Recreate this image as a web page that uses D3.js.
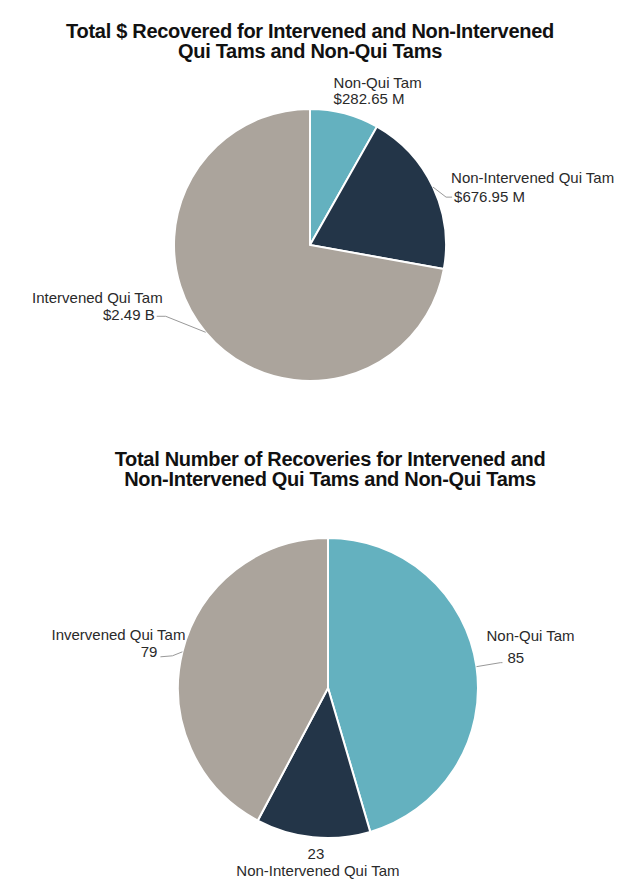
<!DOCTYPE html>
<html>
<head>
<meta charset="utf-8">
<script src="https://cdn.jsdelivr.net/npm/d3@7"></script>
<style>
  body { margin: 0; background: #fff; }
  svg text { font-family: "Liberation Sans", Arial, sans-serif; }
</style>
</head>
<body>
<div id="chart"></div>
<script>
// data
var dollarNames = ["Non-Qui Tam", "Non-Intervened Qui Tam", "Intervened Qui Tam"];
var dollarValues = [282.65, 676.95, 2490]; // $ millions
var dollarText = ["$282.65 M", "$676.95 M", "$2.49 B"];

var countNames = ["Non-Qui Tam", "Non-Intervened Qui Tam", "Invervened Qui Tam"];
var countValues = [85, 23, 79];

var sliceColors = ["#64b1bf", "#233548", "#aba49c"];

var width = 640, height = 887;

var svg = d3.select("#chart")
    .append("svg")
    .attr("width", width)
    .attr("height", height);

// label layout per slice: leader points relative to the slice's edge midpoint,
// text anchor and the two text lines relative to the leader end
var layout1 = [
  { leader: null, anchor: "start", line1: [-11, -25], line2: [-11, -9] },
  { leader: [[13, 10], [19, 10]], anchor: "start", line1: [-1, -14], line2: [2, 5] },
  { leader: [[-40, -16], [-49, -16]], anchor: "end", line1: [6, -13], line2: [-2, 4] }
];
var layout2 = [
  { leader: [[24, -4], [26, -4]], anchor: "start", line1: [-16, -22], line2: [5, 0] },
  { leader: null, anchor: "middle", line1: [3, 22], line2: [5, 39], valueFirst: true },
  { leader: [[-10, 4], [-22, 5]], anchor: "end", line1: [25, -17], line2: [-3, 0] }
];

function drawPie(opts) {
  var g = svg.append("g")
      .attr("transform", "translate(" + opts.cx + "," + opts.cy + ")");

  var pie = d3.pie().sort(null).value(function(d) { return d; });
  var arc = d3.arc().innerRadius(0).outerRadius(opts.r);
  var arcs = pie(opts.values);

  g.selectAll("path.slice")
    .data(arcs)
    .enter()
    .append("path")
    .attr("class", "slice")
    .attr("d", arc)
    .attr("fill", function(d, i) { return sliceColors[i]; })
    .attr("stroke", "#fff")
    .attr("stroke-width", 2);

  arcs.forEach(function(a, i) {
    var mid = (a.startAngle + a.endAngle) / 2;
    var p0 = [opts.r * Math.sin(mid), -opts.r * Math.cos(mid)];
    var lay = opts.layout[i];
    var end = p0;
    if (lay.leader) {
      var pts = [p0].concat(lay.leader.map(function(o) { return [p0[0] + o[0], p0[1] + o[1]]; }));
      g.append("path")
        .attr("d", d3.line()(pts))
        .attr("fill", "none")
        .attr("stroke", "#999")
        .attr("stroke-width", 1);
      end = pts[pts.length - 1];
    }
    // name on top, value under it (or the other way round)
    var top = lay.valueFirst ? opts.labels[i] : opts.names[i];
    var bottom = lay.valueFirst ? opts.names[i] : opts.labels[i];
    g.append("text")
      .attr("x", end[0] + lay.line1[0])
      .attr("y", end[1] + lay.line1[1])
      .attr("text-anchor", lay.anchor)
      .attr("font-size", 15)
      .attr("fill", "#2a2a2a")
      .text(top);
    g.append("text")
      .attr("x", end[0] + lay.line2[0])
      .attr("y", end[1] + lay.line2[1])
      .attr("text-anchor", lay.anchor)
      .attr("font-size", 15)
      .attr("fill", "#2a2a2a")
      .text(bottom);
  });

  var t = svg.append("text")
      .attr("x", opts.titleX)
      .attr("y", opts.titleY)
      .attr("text-anchor", "middle")
      .attr("font-size", 20)
      .attr("letter-spacing", -0.3)
      .attr("font-weight", "bold")
      .attr("fill", "#111");
  opts.title.forEach(function(line, k) {
    t.append("tspan")
      .attr("x", opts.titleX)
      .attr("dy", k === 0 ? 0 : 20)
      .text(line);
  });
}

drawPie({
  cx: 310, cy: 245, r: 136,
  values: dollarValues,
  names: dollarNames,
  labels: dollarText,
  layout: layout1,
  titleX: 310, titleY: 38,
  title: ["Total $ Recovered for Intervened and Non-Intervened", "Qui Tams and Non-Qui Tams"]
});

drawPie({
  cx: 328, cy: 688, r: 150,
  values: countValues,
  names: countNames,
  labels: countValues.map(String),
  layout: layout2,
  titleX: 330, titleY: 466,
  title: ["Total Number of Recoveries for Intervened and", "Non-Intervened Qui Tams and Non-Qui Tams"]
});
</script>
</body>
</html>
